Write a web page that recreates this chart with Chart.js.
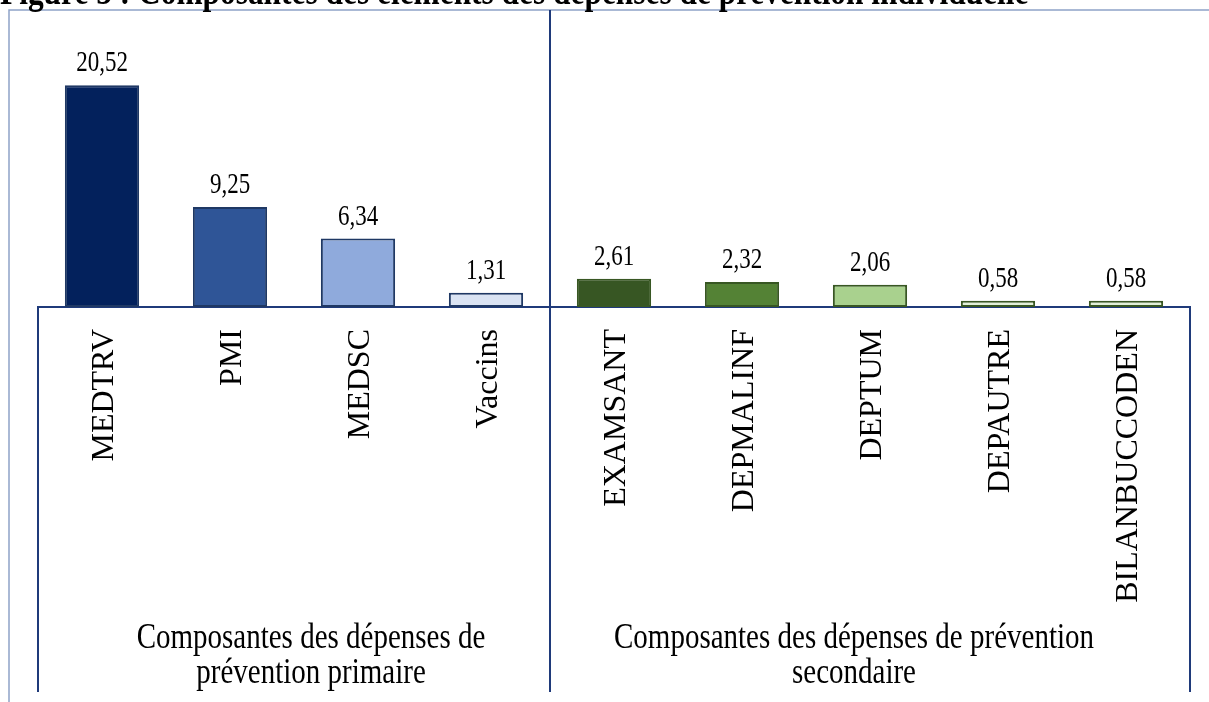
<!DOCTYPE html>
<html>
<head>
<meta charset="utf-8">
<script src="https://cdn.jsdelivr.net/npm/chart.js@4.4.1/dist/chart.umd.min.js"></script>
<style>
    body { margin: 0; background: #fff; }
    #wrap { width: 1209px; height: 702px; position: relative; }
</style>
</head>
<body>
<div id="wrap"><canvas id="depChart" width="1209" height="702"></canvas></div>
<script>
/* =========================
   DATA
========================= */

const categories = ["MEDTRV", "PMI", "MEDSC", "Vaccins", "EXAMSANT", "DEPMALINF", "DEPTUM", "DEPAUTRE", "BILANBUCCODEN"];
const values = [20.52, 9.25, 6.34, 1.31, 2.61, 2.32, 2.06, 0.58, 0.58];
const groupLabels = [
    ["Composantes des dépenses de", "prévention primaire"],
    ["Composantes des dépenses de prévention", "secondaire"]
];
const groupSizes = [4, 5];
const titleText = "Figure 5 : Composantes des éléments des dépenses de prévention individuelle";

const fillColors = ["#03215c", "#2f5597", "#8faadc", "#dae3f3", "#375623", "#548235", "#a9d18e", "#e2f0d9", "#e2f0d9"];
const edgeColors = ["#1f3864", "#1f3864", "#1f3864", "#1f3864", "#385723", "#385723", "#385723", "#385723", "#385723"];

const SERIF = "'Liberation Serif', 'Times New Roman', serif";
const DARK = "#1f3a7a";

// text in the source looks a bit taller than wide
function tallText(ctx, text, x, y, stretch) {
    ctx.save();
    ctx.translate(x, y);
    ctx.scale(1, stretch);
    ctx.fillText(text, 0, 0);
    ctx.restore();
}

/* =========================
   PLUGINS
========================= */

const framePlugin = {
    id: "frame",
    afterDraw(chart) {
        const ctx = chart.ctx;
        const x = chart.scales.x;
        const area = chart.chartArea;
        const split = (x.getPixelForTick(groupSizes[0] - 1) + x.getPixelForTick(groupSizes[0])) / 2;

        ctx.save();

        // outer light frame
        ctx.strokeStyle = "#8ea2c8";
        ctx.lineWidth = 1.5;
        ctx.beginPath();
        ctx.moveTo(9, 702);
        ctx.lineTo(9, 10);
        ctx.lineTo(1209, 10);
        ctx.stroke();

        // divider + axis box
        ctx.strokeStyle = DARK;
        ctx.lineWidth = 2;
        ctx.beginPath();
        ctx.moveTo(split, 10);
        ctx.lineTo(split, 692);
        ctx.moveTo(area.left, area.bottom);
        ctx.lineTo(area.left, 692);
        ctx.moveTo(area.right, area.bottom);
        ctx.lineTo(area.right, 692);
        ctx.stroke();

        // title (cut by top edge as in the source)
        ctx.fillStyle = "#000";
        ctx.font = "bold 31.4px " + SERIF;
        ctx.textAlign = "left";
        ctx.textBaseline = "alphabetic";
        tallText(ctx, titleText, 0, 4, 1.2);

        // group labels
        ctx.font = "29px " + SERIF;
        ctx.textAlign = "center";
        ctx.textBaseline = "alphabetic";
        let start = 0;
        const shifts = [17, -16];
        groupSizes.forEach((n, i) => {
            const left = x.getPixelForTick(start) - 64;
            const right = x.getPixelForTick(start + n - 1) + 64;
            const cx = (left + right) / 2 + shifts[i];
            groupLabels[i].forEach((line, j) => {
                tallText(ctx, line, cx, 648 + j * 35, 1.22);
            });
            start += n;
        });

        ctx.restore();
    }
};

const valueLabels = {
    id: "valueLabels",
    afterDatasetsDraw(chart) {
        const ctx = chart.ctx;
        const meta = chart.getDatasetMeta(0);
        ctx.save();
        ctx.fillStyle = "#000";
        ctx.font = "23px " + SERIF;
        ctx.textAlign = "center";
        ctx.textBaseline = "alphabetic";
        meta.data.forEach((bar, i) => {
            tallText(ctx, values[i].toFixed(2).replace(".", ","), bar.x, bar.y - 14, 1.25);
        });
        ctx.restore();
    }
};

/* =========================
   CHART
========================= */

new Chart(document.getElementById("depChart"), {
    type: "bar",
    data: {
        labels: categories,
        datasets: [{
            data: values,
            backgroundColor: fillColors,
            borderColor: edgeColors,
            borderWidth: 2,
            borderSkipped: false,
            categoryPercentage: 1,
            barPercentage: 0.58
        }]
    },
    options: {
        responsive: false,
        animation: false,
        layout: {
            padding: { left: 38, right: 19, top: 11, bottom: 0 }
        },
        plugins: {
            legend: { display: false },
            tooltip: { enabled: false }
        },
        scales: {
            x: {
                grid: { display: false, drawTicks: false },
                border: { display: true, color: DARK, width: 2 },
                ticks: {
                    autoSkip: false,
                    minRotation: 90,
                    maxRotation: 90,
                    padding: 22,
                    labelOffset: 3,
                    color: "#000",
                    font: { family: SERIF, size: 32 }
                },
                afterFit(scale) {
                    scale.height = 395;
                }
            },
            y: {
                display: false,
                min: 0,
                max: 27.4
            }
        }
    },
    plugins: [framePlugin, valueLabels]
});
</script>
</body>
</html>
